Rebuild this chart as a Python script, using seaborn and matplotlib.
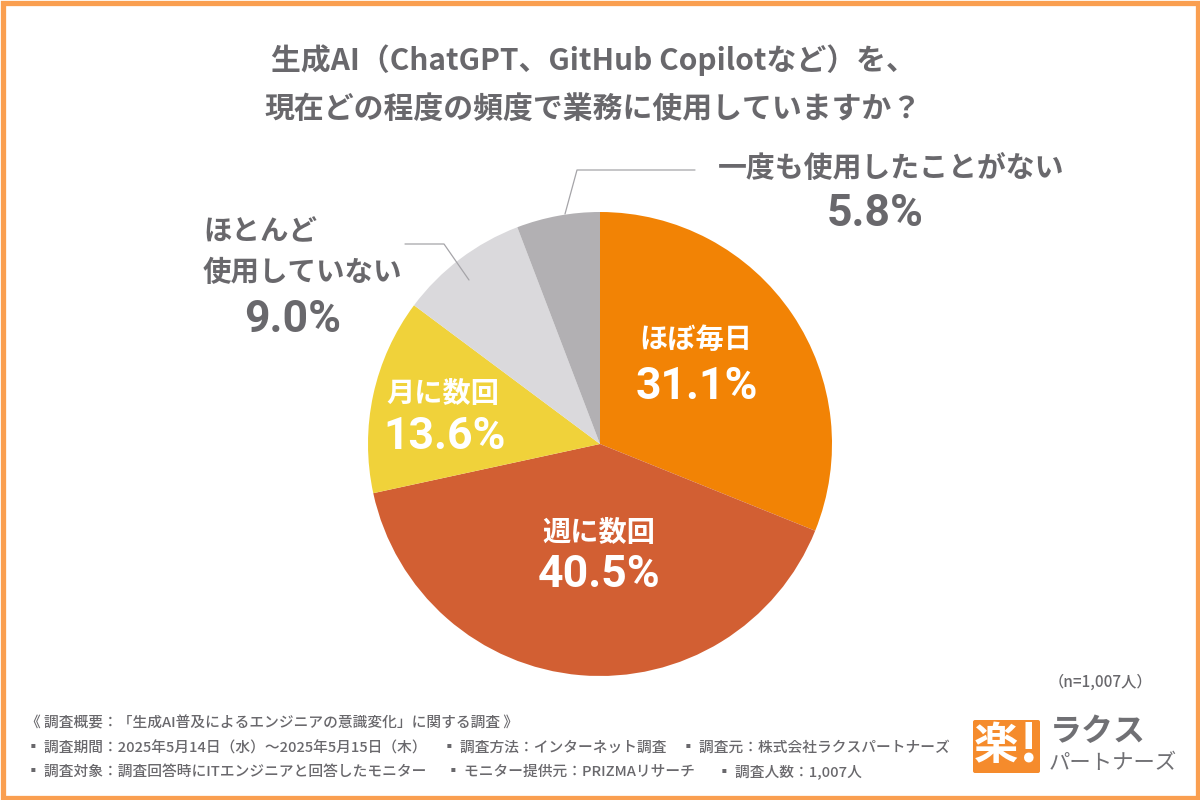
# Grafico de tarta: frecuencia de uso de IA generativa
import matplotlib
matplotlib.use("Agg")
import matplotlib.pyplot as plt
from matplotlib.patches import Rectangle, FancyBboxPatch
import seaborn as sns

sns.set_theme(style="white")
plt.rcParams['font.family'] = ['Noto Sans CJK JP', 'DejaVu Sans']

categorias = ['ほぼ毎日', '週に数回', '月に数回', 'ほとんど', '使用していない', '一度も使用したことがない']
valores = [31.1, 40.5, 13.6, 9.0, 5.8]
colores = ['#F28305', '#D25F33', '#F0D23A', '#DAD9DC', '#B2B0B3']

titulo = ['生成AI（ChatGPT、GitHub Copilotなど）を、', '現在どの程度の頻度で業務に使用していますか？']
nota_cabecera = '《 調査概要：「生成AI普及によるエンジニアの意識変化」に関する調査 》'
nota_fila1 = ['▪ 調査期間：2025年5月14日（水）～2025年5月15日（木）', '▪ 調査方法：インターネット調査', '▪ 調査元：株式会社ラクスパートナーズ']
nota_fila2 = ['▪ 調査対象：調査回答時にITエンジニアと回答したモニター', '▪ モニター提供元：PRIZMAリサーチ', '▪ 調査人数：1,007人']
muestra = '（n=1,007人）'

GRIS = '#69686C'
FUENTE_NUM = ['Roboto', 'Noto Sans CJK JP']

fig = plt.figure(figsize=(12, 8), dpi=100, facecolor='white')
ax = fig.add_axes([0, 0, 1, 1])

# La tarta, en sentido horario desde arriba
ax.pie(valores, colors=sns.color_palette(colores), startangle=90, counterclock=False,
       center=(600, 356), radius=232, frame=True, wedgeprops={'linewidth': 0})
ax.set_xlim(0, 1200)
ax.set_ylim(0, 800)
ax.set_aspect('equal')
ax.axis('off')


def txt(x, y, s, size, color=GRIS, ha='center', family=None, weight='bold'):
    # y en pixeles desde arriba
    ax.text(x, 800 - y, s, fontsize=size, color=color, ha=ha, va='center', weight=weight,
            family=family if family else plt.rcParams['font.family'])


# Borde naranja
ax.add_patch(Rectangle((2.5, 2.5), 1195, 795, fill=False, edgecolor='#FA9F50', lw=3.8))

# Titulo
txt(593, 60, titulo[0], 21.5)
txt(593, 109, titulo[1], 21.5)

# Etiquetas dentro de la tarta
txt(696, 340, categorias[0], 20.3, 'white')
txt(697, 387, f'{valores[0]}%', 32, 'white', family=FUENTE_NUM)
txt(599, 533, categorias[1], 20.3, 'white')
txt(599, 575, f'{valores[1]}%', 32, 'white', family=FUENTE_NUM)
txt(443, 394, categorias[2], 20.3, 'white')
txt(445, 437, f'{valores[2]}%', 32, 'white', family=FUENTE_NUM)

# Etiquetas fuera, con sus lineas
txt(203, 232, categorias[3], 20.5, ha='left')
txt(203, 273, categorias[4], 20.5, ha='left')
txt(293, 320, f'{valores[3]:.1f}%', 32, family=FUENTE_NUM)
txt(891, 168, categorias[5], 20.8)
txt(875, 214, f'{valores[4]}%', 32, family=FUENTE_NUM)
ax.plot([405, 444, 469], [556, 556, 520], color='#A5A4A8', lw=0.9)
ax.plot([695, 577, 565], [630, 630, 586], color='#A5A4A8', lw=0.9)

# Notas al pie
txt(1100, 682, muestra, 11, weight='medium')
txt(26, 723, nota_cabecera, 10.6, ha='left', weight='medium')
for x, s in zip([26, 442, 681], nota_fila1):
    txt(x, 748, s, 10.6, ha='left', weight='medium')
for x, s in zip([26, 446, 717], nota_fila2):
    txt(x, 772, s, 10.6, ha='left', weight='medium')

# Logotipo
ax.add_patch(FancyBboxPatch((973, 27), 67, 53, boxstyle='round,pad=0,rounding_size=2',
                            facecolor='#F58B2C', edgecolor='none'))
txt(996, 746, '楽', 32, 'white')
txt(1029, 746, '!', 38, 'white')
txt(1050, 732, 'ラクス', 23, '#707074', ha='left')
txt(1049, 763, 'パートナーズ', 15.4, '#707074', ha='left', weight='normal')

fig.savefig('out.png', dpi=100)
